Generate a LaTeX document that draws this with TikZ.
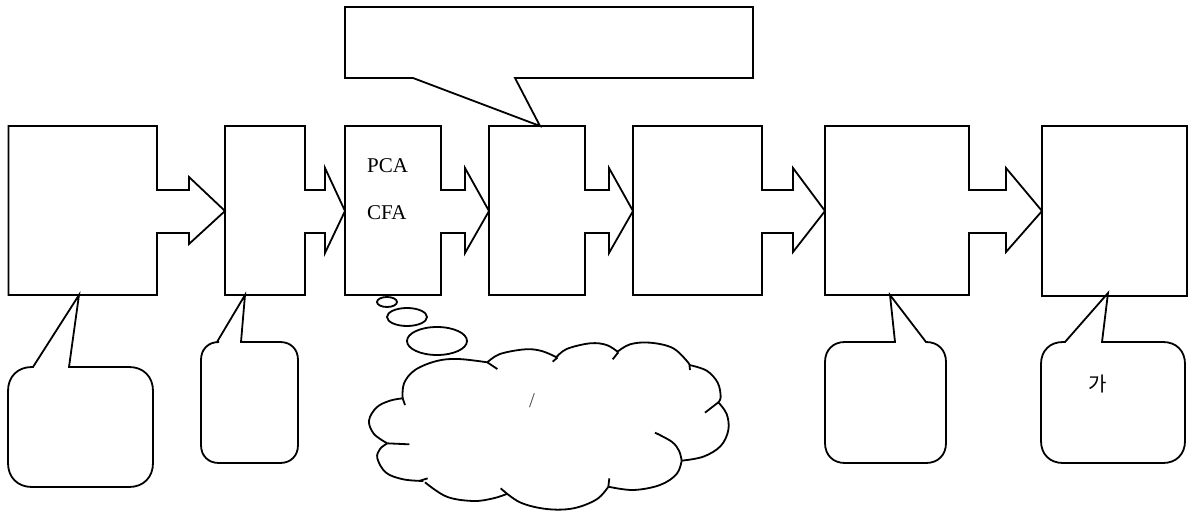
\documentclass[tikz,border=0pt]{standalone}
\usepackage{fontspec}
\setmainfont{Liberation Serif}
\newfontfamily\krfont{Noto Sans CJK KR}
\usetikzlibrary{calc}

% Block with an arrow on its right side:
% #1 name, #2 left, #3 right, #4 top, #5 bottom, #6 neck end, #7 head top, #8 head bottom, #9 tip x
\newcommand\arrowblock[9]{%
  \coordinate (#1-nw) at (#2,#4);
  \coordinate (#1-se) at (#3,#5);
  \coordinate (#1-tip) at (#9,211);
  \draw[outline] (#2,#4) -- (#3,#4) -- (#3,190) -- (#6,190) -- (#6,#7) -- (#1-tip)
    -- (#6,#8) -- (#6,233) -- (#3,233) -- (#3,#5) -- (#2,#5) -- cycle;}

% Rounded speech bubble with a wedge pointing up:
% #1 name, #2 left, #3 right, #4 top, #5 bottom, #6 radius, #7 wedge base a, #8 wedge tip, #9 wedge base b
\newcommand\upbubble[9]{%
  \coordinate (#1-tip) at #8;
  \draw[outline] ({#2+#6},#4) -- (#7,#4) -- (#1-tip) -- (#9,#4) -- ({#3-#6},#4)
    .. controls ({#3-0.4*#6},#4) and (#3,{#4+0.4*#6}) .. (#3,{#4+#6}) -- (#3,{#5-#6})
    .. controls (#3,{#5-0.4*#6}) and ({#3-0.4*#6},#5) .. ({#3-#6},#5) -- ({#2+#6},#5)
    .. controls ({#2+0.4*#6},#5) and (#2,{#5-0.4*#6}) .. (#2,{#5-#6}) -- (#2,{#4+#6})
    .. controls (#2,{#4+0.4*#6}) and ({#2+0.4*#6},#4) .. cycle;}

\begin{document}
\begin{tikzpicture}[x=1pt,y=-1pt,
  outline/.style={line width=1.8pt,black,line join=miter},
  label/.style={inner sep=0pt,font=\fontsize{21}{24}\selectfont}]
\useasboundingbox (0,0) rectangle (1190,513);

% process chain
\arrowblock{b1}{8.5}{157}{126}{295}{189}{177}{244}{225}
\arrowblock{b2}{225}{305}{126}{295}{325}{168}{253}{345}
\arrowblock{b3}{345}{441}{126}{295}{465}{168}{253}{489}
\arrowblock{b4}{489}{585}{126}{295}{609}{168}{253}{633}
\arrowblock{b5}{633}{762}{126}{295}{793}{168}{252}{825}
\arrowblock{b6}{825}{969}{126}{295}{1006}{168}{252}{1042}
\node[draw,outline,rectangle,minimum width=145pt,minimum height=170pt,inner sep=0pt]
  (b7) at (1114.5,211) {};

% text inside the third block
\node[label,anchor=base west] (pca) at (367,172) {PCA};
\node[label,anchor=base west] (cfa) at (367,219) {CFA};

% callout above the fourth block
\coordinate (top-tip) at (540,126);
\draw[outline] (345,7) -- (753,7) -- (753,78) -- (515,78) -- (top-tip) -- (413,78)
  -- (345,78) -- cycle;

% speech bubbles below
\upbubble{c1}{8}{153}{367}{487}{24}{33}{(79,295)}{69}
\upbubble{c2}{201}{298}{342}{463}{18}{217}{(245,295)}{241}
\upbubble{c6}{825}{946}{342}{463}{20}{895}{(890,295)}{926}
\upbubble{c7}{1041}{1185}{342}{463}{22}{1065}{(1108,293)}{1102}
\node[font=\krfont\fontsize{20}{24}\selectfont,inner sep=0pt] (ga) at (1098,384) {가};

% thought cloud with its bubbles
\draw[outline] (387,302) ellipse [x radius=10, y radius=5];
\draw[outline] (407,317) ellipse [x radius=20, y radius=9];
\draw[outline] (437,341) ellipse [x radius=30, y radius=14];
\begin{scope}[shift={(360,290)},scale=1/3]
  \draw[outline] plot[smooth,tension=0.6] coordinates
    {(128,325) (132,280) (165,240) (230,213) (295,207) (382,217)};
  \draw[outline] (382,217) -- (412,237);
  \draw[outline] plot[smooth,tension=0.6] coordinates
    {(382,217) (420,192) (495,178) (545,183) (592,203)};
  \draw[outline] (592,203) -- (578,215);
  \draw[outline] plot[smooth,tension=0.6] coordinates
    {(588,203) (620,177) (690,160) (740,165) (775,187)};
  \draw[outline] (775,187) -- (758,208);
  \draw[outline] plot[smooth,tension=0.6] coordinates
    {(770,187) (810,163) (870,158) (940,175) (988,222)};
  \draw[outline] (988,222) -- (990,240);
  \draw[outline] plot[smooth,tension=0.6] coordinates
    {(988,225) (1040,242) (1073,278) (1082,320) (1075,337)};
  \draw[outline] (1075,337) -- (1035,368);
  \draw[outline] plot[smooth,tension=0.6] coordinates
    {(1075,337) (1100,372) (1105,420) (1082,468) (1030,500) (965,512)};
  \draw[outline] plot[smooth,tension=0.6] coordinates
    {(965,512) (957,482) (935,455) (885,428)};
  \draw[outline] plot[smooth,tension=0.6] coordinates
    {(965,512) (950,552) (900,585) (820,600) (745,590)};
  \draw[outline] (745,590) -- (748,565);
  \draw[outline] plot[smooth,tension=0.6] coordinates
    {(745,590) (710,628) (640,655) (560,657) (480,637) (422,595)};
  \draw[outline] plot[smooth,tension=0.6] coordinates
    {(440,612) (400,625) (340,633) (260,620) (195,577)};
  \draw[outline] (180,572) -- (203,565);
  \draw[outline] plot[smooth,tension=0.6] coordinates
    {(190,573) (130,568) (78,548) (52,505) (60,477) (82,460)};
  \draw[outline] (82,460) -- (148,463);
  \draw[outline] plot[smooth,tension=0.6] coordinates
    {(82,460) (42,432) (27,392) (50,352) (90,332) (128,325)};
  \draw[outline] (128,325) -- (135,345);
\end{scope}
\node[label,text=black!70] (slash) at (532,401) {/};
\end{tikzpicture}
\end{document}
